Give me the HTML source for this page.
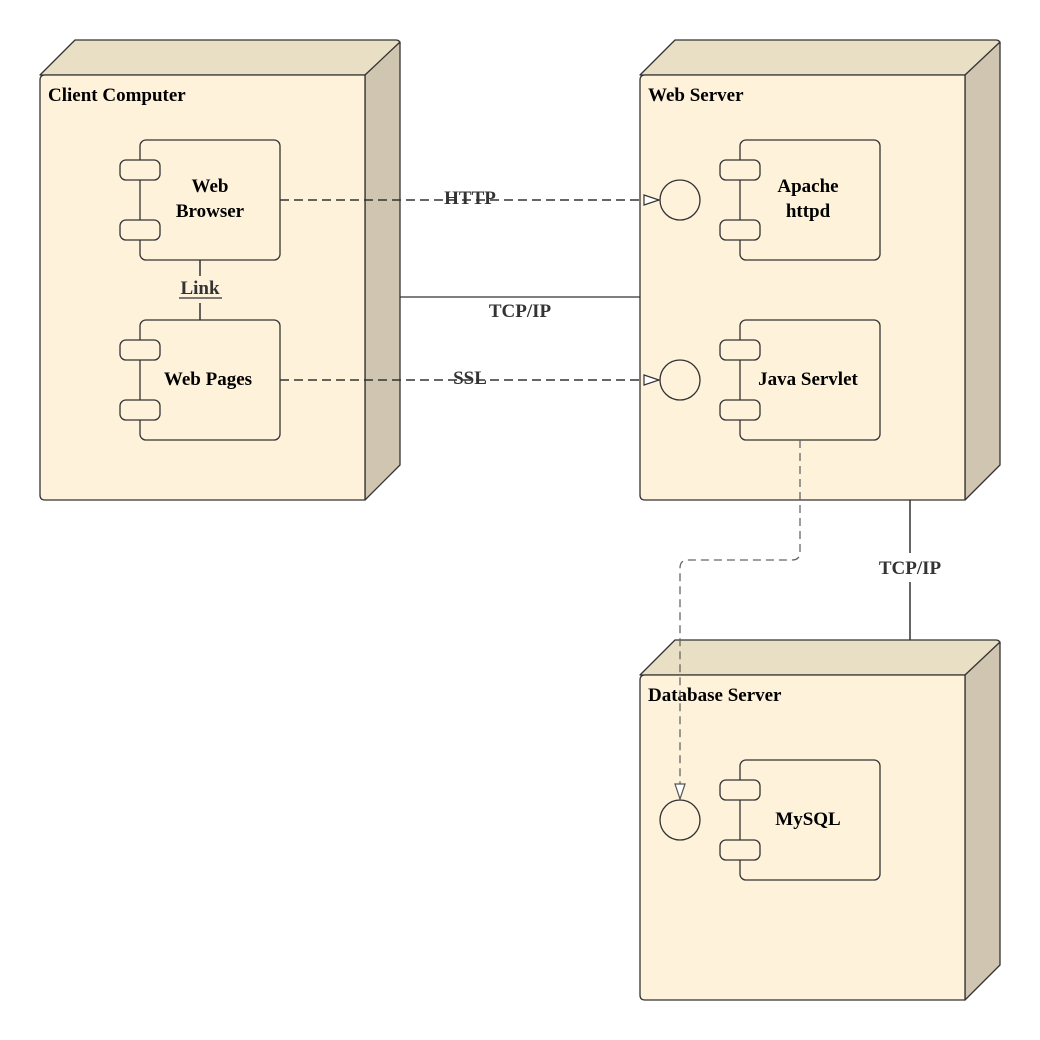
<!DOCTYPE html>
<html><head><meta charset="utf-8"><style>
html,body{margin:0;padding:0;background:#fff;overflow:hidden;}
svg{display:block;}
svg text{font-family:"Liberation Serif",serif;font-weight:bold;fill:#000;}
</style></head><body>
<svg width="1040" height="1040" viewBox="0 0 1040 1040" xmlns="http://www.w3.org/2000/svg">
<defs>
<marker id="ah" markerWidth="18" markerHeight="14" refX="16" refY="7" orient="auto" markerUnits="userSpaceOnUse">
<path d="M1,2 L16,7 L1,12 Z" fill="#fff" stroke="#333" stroke-width="1.2"/>
</marker>
<marker id="ah2" markerWidth="18" markerHeight="14" refX="16" refY="7" orient="auto" markerUnits="userSpaceOnUse">
<path d="M1,2 L16,7 L1,12 Z" fill="#fff" stroke="#555" stroke-width="1.2"/>
</marker>
<g id="comp">
<rect x="0" y="0" width="140" height="120" rx="6" fill="#fef2db" stroke="#333" stroke-width="1.3"/>
<rect x="-20" y="20" width="40" height="20" rx="6" fill="#fef2db" stroke="#333" stroke-width="1.3"/>
<rect x="-20" y="80" width="40" height="20" rx="6" fill="#fef2db" stroke="#333" stroke-width="1.3"/>
</g>
</defs>

<!-- Client node -->
<g stroke="#333" stroke-width="1.3" stroke-linejoin="round">
<path d="M40,75 L75,40 L396,40 Q400,40 400,44 L365,75 Z" fill="#e9dfc4"/>
<path d="M365,75 L400,42 L400,465 L365,500 Z" fill="#d0c5b0"/>
<path d="M45,75 L365,75 L365,500 L45,500 Q40,500 40,495 L40,80 Q40,75 45,75 Z" fill="#fef2db"/>
</g>
<!-- Web server node -->
<g stroke="#333" stroke-width="1.3" stroke-linejoin="round">
<path d="M640,75 L675,40 L996,40 Q1000,40 1000,44 L965,75 Z" fill="#e9dfc4"/>
<path d="M965,75 L1000,42 L1000,465 L965,500 Z" fill="#d0c5b0"/>
<path d="M645,75 L965,75 L965,500 L645,500 Q640,500 640,495 L640,80 Q640,75 645,75 Z" fill="#fef2db"/>
</g>
<!-- DB node -->
<g stroke="#333" stroke-width="1.3" stroke-linejoin="round">
<path d="M640,675 L675,640 L996,640 Q1000,640 1000,644 L965,675 Z" fill="#e9dfc4"/>
<path d="M965,675 L1000,642 L1000,965 L965,1000 Z" fill="#d0c5b0"/>
<path d="M645,675 L965,675 L965,1000 L645,1000 Q640,1000 640,995 L640,680 Q640,675 645,675 Z" fill="#fef2db"/>
</g>

<text x="48" y="101" font-size="19">Client Computer</text>
<text x="648" y="101" font-size="19">Web Server</text>
<text x="648" y="701" font-size="19">Database Server</text>

<use href="#comp" x="140" y="140"/>
<use href="#comp" x="140" y="320"/>
<use href="#comp" x="740" y="140"/>
<use href="#comp" x="740" y="320"/>
<use href="#comp" x="740" y="760"/>

<text x="210" y="192" font-size="19" text-anchor="middle">Web</text>
<text x="210" y="217" font-size="19" text-anchor="middle">Browser</text>
<text x="208" y="385" font-size="19" text-anchor="middle">Web Pages</text>
<text x="808" y="192" font-size="19" text-anchor="middle">Apache</text>
<text x="808" y="217" font-size="19" text-anchor="middle">httpd</text>
<text x="808" y="385" font-size="19" text-anchor="middle">Java Servlet</text>
<text x="808" y="825" font-size="19" text-anchor="middle">MySQL</text>

<circle cx="680" cy="200" r="20" fill="#fef2db" stroke="#333" stroke-width="1.3"/>
<circle cx="680" cy="380" r="20" fill="#fef2db" stroke="#333" stroke-width="1.3"/>
<circle cx="680" cy="820" r="20" fill="#fef2db" stroke="#333" stroke-width="1.3"/>

<!-- Link -->
<line x1="200" y1="260" x2="200" y2="276" stroke="#333" stroke-width="1.5"/>
<line x1="200" y1="303" x2="200" y2="320" stroke="#333" stroke-width="1.5"/>
<text x="200" y="294" font-size="19" text-anchor="middle" style="fill:#333">Link</text>
<line x1="179" y1="298" x2="222" y2="298" stroke="#333" stroke-width="1.3"/>

<!-- HTTP -->
<line x1="280" y1="200" x2="659" y2="200" stroke="#333" stroke-width="1.6" stroke-dasharray="9,5" marker-end="url(#ah)"/>
<text x="470" y="204" font-size="19" text-anchor="middle" style="fill:#333">HTTP</text>

<!-- SSL -->
<line x1="280" y1="380" x2="659" y2="380" stroke="#333" stroke-width="1.6" stroke-dasharray="9,5" marker-end="url(#ah)"/>
<text x="470" y="384" font-size="19" text-anchor="middle" style="fill:#333">SSL</text>

<!-- TCP/IP horizontal -->
<line x1="400" y1="297" x2="640" y2="297" stroke="#333" stroke-width="1.3"/>
<text x="520" y="317" font-size="19" text-anchor="middle" style="fill:#333">TCP/IP</text>

<!-- TCP/IP vertical -->
<line x1="910" y1="500" x2="910" y2="553" stroke="#333" stroke-width="1.5"/>
<line x1="910" y1="582" x2="910" y2="640" stroke="#333" stroke-width="1.5"/>
<text x="910" y="574" font-size="19" text-anchor="middle" style="fill:#333">TCP/IP</text>

<!-- Servlet to DB -->
<path d="M800,440 L800,552 Q800,560 792,560 L688,560 Q680,560 680,568 L680,799" fill="none" stroke="#666" stroke-width="1.3" stroke-dasharray="8,5" marker-end="url(#ah2)"/>
</svg>
</body></html>
